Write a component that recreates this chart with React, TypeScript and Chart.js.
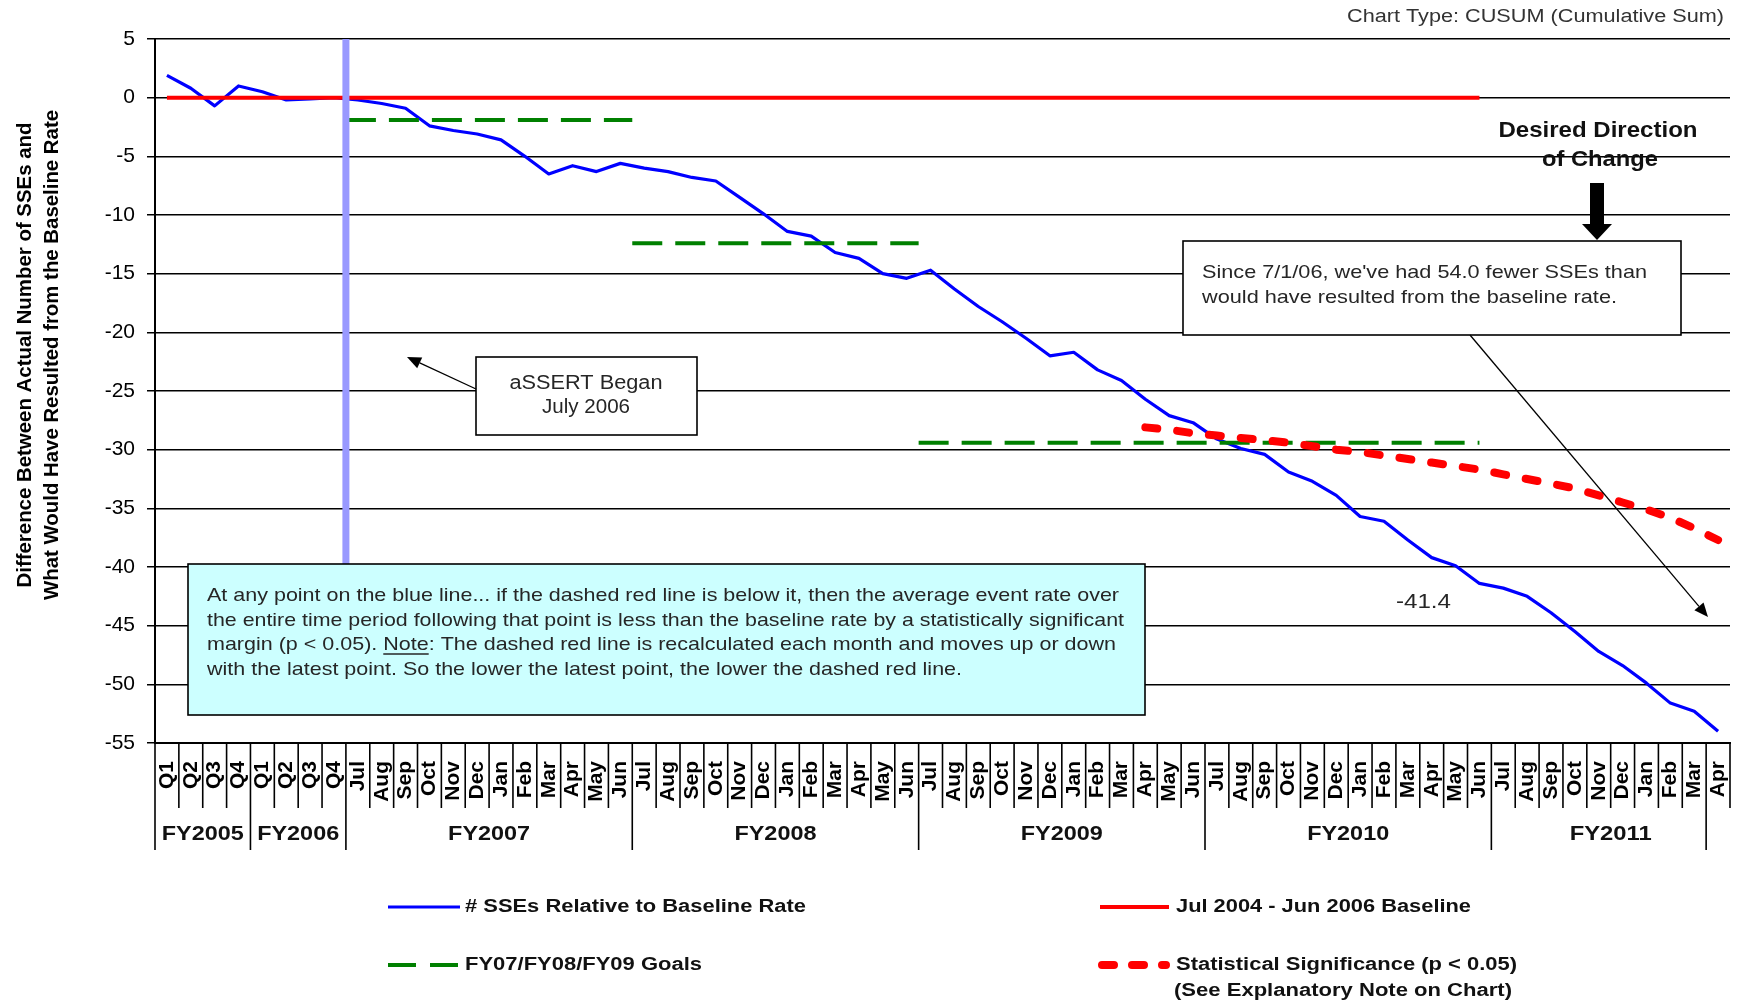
import { useEffect, useRef } from 'react';
import { Chart, registerables } from 'chart.js';

Chart.register(...registerables);

const FONT = "'Liberation Sans', Arial, Helvetica, sans-serif";

// ---------------- DATA ----------------
const fiscalYears = ['FY2005', 'FY2006', 'FY2007', 'FY2008', 'FY2009', 'FY2010', 'FY2011'];
const quarterLabels = ['Q1', 'Q2', 'Q3', 'Q4'];
const monthLabels = ['Jul', 'Aug', 'Sep', 'Oct', 'Nov', 'Dec', 'Jan', 'Feb', 'Mar', 'Apr', 'May', 'Jun'];
const periodsPerYear = [
  quarterLabels,
  quarterLabels,
  monthLabels,
  monthLabels,
  monthLabels,
  monthLabels,
  monthLabels.slice(0, 10),
];
const categories = periodsPerYear.flat();
// Excel draws an extra long divider before the last month
const extraLongDividers = [65];

// # SSEs relative to baseline rate (CUSUM)
const cusumValues = [
  1.9, 0.8, -0.7, 1.0, 0.5, -0.2, -0.1, 0.0,
  -0.2, -0.5, -0.9, -2.4, -2.8, -3.1, -3.6, -5.0, -6.5, -5.8, -6.3, -5.6,
  -6.0, -6.3, -6.8, -7.1, -8.5, -9.9, -11.4, -11.8, -13.2, -13.7, -15.0, -15.4,
  -14.7, -16.3, -17.8, -19.1, -20.5, -22.0, -21.7, -23.2, -24.1, -25.7, -27.1, -27.7,
  -29.1, -29.9, -30.4, -31.9, -32.7, -33.9, -35.7, -36.1, -37.7, -39.2, -39.9, -41.4,
  -41.8, -42.5, -43.9, -45.5, -47.2, -48.4, -49.9, -51.6, -52.3, -54.0,
];

// Jul 2004 - Jun 2006 baseline
const baselineValue = 0;
const baselineLastIndex = 55;

// Statistical significance (p < 0.05)
const significanceStartIndex = 41;
const significanceValues = [
  -28.1, -28.3, -28.6, -28.8, -29.0, -29.2, -29.4, -29.7, -30.0, -30.2, -30.5, -30.8,
  -31.1, -31.4, -31.7, -32.1, -32.5, -32.9, -33.3, -33.9, -34.5, -35.1, -35.8, -36.7, -37.7,
];

// FY07 / FY08 / FY09 goals (category positions, half-way between periods)
const goalLevels = [-1.9, -12.4, -29.4];
const goalSpans = [
  [7.5, 19.5],
  [19.5, 31.5],
  [31.5, 55],
];

// aSSERT start marker
const assertStartPosition = 7.5;
const assertLineSpan = [5, -45];

const yMin = -55;
const yMax = 5;
const yStep = 5;

const legendLabels = [
  '# SSEs Relative to Baseline Rate',
  'Jul 2004 - Jun 2006 Baseline',
  'FY07/FY08/FY09 Goals',
  'Statistical Significance (p < 0.05)',
  '(See Explanatory Note on Chart)',
];

const yTitleLines = [
  'Difference Between Actual Number of SSEs and',
  'What Would Have Resulted from the Baseline Rate',
];

const noteLines = [
  'At any point on the blue line... if the dashed red line is below it, then the average event rate over',
  'the entire time period following that point is less than the baseline rate by a statistically significant',
  'margin (p < 0.05). Note: The dashed red line is recalculated each month and moves up or down',
  'with the latest point. So the lower the latest point, the lower the dashed red line.',
];

// ---------------- STYLES ----------------
const BLUE = '#0000FF';
const RED = '#FF0000';
const GREEN = '#008000';
const PURPLE = '#9999FF';

function fitText(
  ctx: CanvasRenderingContext2D,
  text: string,
  x: number,
  y: number,
  font: string,
  width: number,
  align: CanvasTextAlign,
  color: string,
  angle = 0,
) {
  ctx.save();
  ctx.font = font;
  const natural = ctx.measureText(text).width;
  const sx = width / natural;
  ctx.translate(x, y);
  if (angle) ctx.rotate(angle);
  ctx.scale(sx, 1);
  ctx.fillStyle = color;
  ctx.textBaseline = 'middle';
  ctx.textAlign = align;
  ctx.fillText(text, 0, 0);
  ctx.restore();
  return sx;
}

function drawBox(ctx: CanvasRenderingContext2D, x: number, y: number, w: number, h: number, fill: string) {
  ctx.save();
  ctx.fillStyle = fill;
  ctx.fillRect(x, y, w, h);
  ctx.strokeStyle = '#000';
  ctx.lineWidth = 1.6;
  ctx.strokeRect(x, y, w, h);
  ctx.restore();
}

function drawArrow(ctx: CanvasRenderingContext2D, x1: number, y1: number, x2: number, y2: number) {
  const head = 14;
  const half = 6;
  const ang = Math.atan2(y2 - y1, x2 - x1);
  const bx = x2 - head * Math.cos(ang);
  const by = y2 - head * Math.sin(ang);
  ctx.save();
  ctx.strokeStyle = '#000';
  ctx.fillStyle = '#000';
  ctx.lineWidth = 1.3;
  ctx.beginPath();
  ctx.moveTo(x1, y1);
  ctx.lineTo(bx, by);
  ctx.stroke();
  ctx.beginPath();
  ctx.moveTo(x2, y2);
  ctx.lineTo(bx + half * Math.sin(ang), by - half * Math.cos(ang));
  ctx.lineTo(bx - half * Math.sin(ang), by + half * Math.cos(ang));
  ctx.closePath();
  ctx.fill();
  ctx.restore();
}

function legendSample(ctx: CanvasRenderingContext2D, x1: number, x2: number, y: number, ds: any) {
  ctx.save();
  ctx.strokeStyle = ds.borderColor;
  ctx.lineWidth = ds.borderWidth;
  ctx.setLineDash(ds.legendDash || []);
  ctx.lineCap = ds.borderCapStyle || 'butt';
  ctx.beginPath();
  ctx.moveTo(x1, y);
  ctx.lineTo(x2, y);
  ctx.stroke();
  ctx.restore();
}

const overlayPlugin = {
  id: 'overlay',
  afterDatasetsDraw(chart: any) {
    const ctx: CanvasRenderingContext2D = chart.ctx;
    const xs = chart.scales.x;
    const ys = chart.scales.y;
    const txt = '#262626';

    // aSSERT Began box
    drawBox(ctx, 476, 357, 221, 78, '#FFFFFF');
    fitText(ctx, 'aSSERT Began', 586, 383, `20px ${FONT}`, 153, 'center', txt);
    fitText(ctx, 'July 2006', 586, 407, `20px ${FONT}`, 88, 'center', txt);
    drawArrow(ctx, 476, 389, 407, 357);

    // explanatory note box
    drawBox(ctx, 188, 564, 957, 151, '#CCFFFF');
    const noteWidths = [912, 917, 909, 755];
    const noteY = [596, 620.5, 645, 669.5];
    noteLines.forEach((line, i) => {
      const sx = fitText(ctx, line, 207, noteY[i], `19px ${FONT}`, noteWidths[i], 'left', txt);
      if (i === 2) {
        ctx.save();
        ctx.font = `19px ${FONT}`;
        const pre = ctx.measureText('margin (p < 0.05). ').width * sx;
        const nw = ctx.measureText('Note').width * sx;
        ctx.strokeStyle = txt;
        ctx.lineWidth = 1.3;
        ctx.beginPath();
        ctx.moveTo(207 + pre, noteY[i] + 9);
        ctx.lineTo(207 + pre + nw, noteY[i] + 9);
        ctx.stroke();
        ctx.restore();
      }
    });

    // summary box
    const last = cusumValues[cusumValues.length - 1];
    drawBox(ctx, 1183, 241, 498, 94, '#FFFFFF');
    fitText(ctx, `Since 7/1/06, we've had ${Math.abs(last).toFixed(1)} fewer SSEs than`, 1202, 273, `19px ${FONT}`, 445, 'left', txt);
    fitText(ctx, 'would have resulted from the baseline rate.', 1202, 298, `19px ${FONT}`, 415, 'left', txt);
    drawArrow(ctx, 1470, 335, 1708, 617);

    // value label at end of FY2010
    const px = xs.getPixelForValue(baselineLastIndex);
    const py = ys.getPixelForValue(cusumValues[baselineLastIndex]);
    fitText(ctx, cusumValues[baselineLastIndex].toFixed(1), px - 56, py + 19, `21px ${FONT}`, 55, 'center', txt);

    // desired direction
    fitText(ctx, 'Desired Direction', 1598, 131, `bold 22px ${FONT}`, 199, 'center', '#111');
    fitText(ctx, 'of Change', 1600, 160, `bold 22px ${FONT}`, 116, 'center', '#111');
    ctx.save();
    ctx.fillStyle = '#000';
    const cx = 1597;
    ctx.beginPath();
    ctx.moveTo(cx - 7, 183);
    ctx.lineTo(cx + 7, 183);
    ctx.lineTo(cx + 7, 224);
    ctx.lineTo(cx + 15, 224);
    ctx.lineTo(cx, 240);
    ctx.lineTo(cx - 15, 224);
    ctx.lineTo(cx - 7, 224);
    ctx.closePath();
    ctx.fill();
    ctx.restore();
  },
  afterDraw(chart: any) {
    const ctx: CanvasRenderingContext2D = chart.ctx;
    const xs = chart.scales.x;
    const area = chart.chartArea;
    const n = categories.length;
    const w = xs.getPixelForValue(1) - xs.getPixelForValue(0);

    // category dividers
    const groupStarts: number[] = [];
    let acc = 0;
    periodsPerYear.forEach((p) => {
      groupStarts.push(acc);
      acc += p.length;
    });
    const longDividers = [...groupStarts, ...extraLongDividers];
    ctx.save();
    ctx.strokeStyle = '#000';
    ctx.lineWidth = 1.6;
    for (let i = 0; i <= n; i++) {
      const bx = i < n ? xs.getPixelForValue(i) - w / 2 : xs.getPixelForValue(n - 1) + w / 2;
      const len = longDividers.includes(i) ? 107 : 65;
      ctx.beginPath();
      ctx.moveTo(bx, area.bottom);
      ctx.lineTo(bx, area.bottom + len);
      ctx.stroke();
    }
    ctx.restore();

    // fiscal year labels
    fiscalYears.forEach((fy, k) => {
      const s = groupStarts[k];
      const e = s + periodsPerYear[k].length;
      const c = (xs.getPixelForValue(s) + xs.getPixelForValue(e - 1)) / 2;
      fitText(ctx, fy, c, area.bottom + 91, `bold 21px ${FONT}`, 82, 'center', '#111');
    });

    // y axis title
    fitText(ctx, yTitleLines[0], 25, 355, `bold 20px ${FONT}`, 465, 'center', '#000', -Math.PI / 2);
    fitText(ctx, yTitleLines[1], 52, 355, `bold 20px ${FONT}`, 490, 'center', '#000', -Math.PI / 2);

    // chart type
    fitText(ctx, 'Chart Type: CUSUM (Cumulative Sum)', 1724, 17, `18px ${FONT}`, 377, 'right', '#333');

    // legend
    const ds = chart.data.datasets;
    const blue = ds.find((d: any) => d.key === 'cusum');
    const base = ds.find((d: any) => d.key === 'baseline');
    const goal = ds.find((d: any) => d.key === 'goal');
    const sig = ds.find((d: any) => d.key === 'sig');
    legendSample(ctx, 388, 460, 907, blue);
    fitText(ctx, legendLabels[0], 465, 907, `bold 18px ${FONT}`, 341, 'left', '#111');
    legendSample(ctx, 1100, 1169, 907, base);
    fitText(ctx, legendLabels[1], 1176, 907, `bold 18px ${FONT}`, 295, 'left', '#111');
    legendSample(ctx, 388, 458, 965, goal);
    fitText(ctx, legendLabels[2], 465, 965, `bold 18px ${FONT}`, 237, 'left', '#111');
    legendSample(ctx, 1102, 1166, 965, sig);
    fitText(ctx, legendLabels[3], 1176, 965, `bold 18px ${FONT}`, 341, 'left', '#111');
    fitText(ctx, legendLabels[4], 1174, 991, `bold 18px ${FONT}`, 338, 'left', '#111');
  },
};

function zeroPadding(s: any) {
  s.paddingLeft = 0;
  s.paddingRight = 0;
  s.paddingTop = 0;
  s.paddingBottom = 0;
}

export default function App() {
  const ref = useRef<HTMLCanvasElement>(null);

  useEffect(() => {
    const canvas = ref.current;
    if (!canvas) return;

    const baselineData = categories.map((_, i) => (i <= baselineLastIndex ? baselineValue : null));
    const sigData = categories.map((_, i) =>
      i >= significanceStartIndex ? significanceValues[i - significanceStartIndex] : null,
    );

    const goalDatasets = goalLevels.map((lvl, k) => ({
      key: 'goal',
      label: 'FY07/FY08/FY09 Goals',
      xAxisID: 'x2',
      data: [
        { x: goalSpans[k][0], y: lvl },
        { x: goalSpans[k][1], y: lvl },
      ],
      borderColor: GREEN,
      borderWidth: 4,
      borderDash: [30, 13],
      legendDash: [28, 14],
      pointRadius: 0,
      fill: false,
    }));

    const chart = new Chart(canvas, {
      type: 'line',
      data: {
        labels: categories,
        datasets: [
          {
            key: 'assert',
            label: 'aSSERT Began',
            xAxisID: 'x2',
            data: [
              { x: assertStartPosition, y: assertLineSpan[0] },
              { x: assertStartPosition, y: assertLineSpan[1] },
            ],
            borderColor: PURPLE,
            borderWidth: 7,
            pointRadius: 0,
          },
          {
            key: 'sig',
            label: 'Statistical Significance (p < 0.05)',
            data: sigData,
            borderColor: RED,
            borderWidth: 8,
            borderDash: [12, 20],
            legendDash: [12, 18],
            borderCapStyle: 'round',
            pointRadius: 0,
            spanGaps: false,
          },
          {
            key: 'baseline',
            label: 'Jul 2004 - Jun 2006 Baseline',
            data: baselineData,
            borderColor: RED,
            borderWidth: 4,
            pointRadius: 0,
          },
          ...goalDatasets,
          {
            key: 'cusum',
            label: '# SSEs Relative to Baseline Rate',
            data: cusumValues,
            borderColor: BLUE,
            borderWidth: 3.2,
            borderJoinStyle: 'round',
            pointRadius: 0,
          },
        ] as any,
      },
      options: {
        animation: false,
        responsive: false,
        devicePixelRatio: 1,
        layout: { padding: { left: 0, right: 7, top: 39, bottom: 0 } },
        plugins: {
          legend: { display: false },
          tooltip: { enabled: false },
          title: { display: false },
        },
        scales: {
          x: {
            type: 'category',
            offset: true,
            grid: { display: true, drawOnChartArea: false, drawTicks: false },
            border: { display: true, color: '#000', width: 2 },
            ticks: {
              autoSkip: false,
              minRotation: 90,
              maxRotation: 90,
              padding: 18,
              color: '#000',
              font: { family: FONT, size: 21, weight: 'bold' },
            },
            afterFit: (s: any) => {
              s.height = 258;
              zeroPadding(s);
            },
          },
          x2: {
            type: 'linear',
            display: false,
            min: -0.5,
            max: categories.length - 0.5,
            afterFit: (s: any) => zeroPadding(s),
          },
          y: {
            min: yMin,
            max: yMax,
            ticks: {
              stepSize: yStep,
              padding: 12,
              color: '#000',
              font: { family: FONT, size: 21 },
            },
            grid: { color: '#000', lineWidth: 1.5, tickLength: 8, drawTicks: true },
            border: { display: true, color: '#000', width: 2 },
            afterFit: (s: any) => {
              s.width = 155;
              zeroPadding(s);
            },
          },
        },
      } as any,
      plugins: [overlayPlugin],
    });

    return () => chart.destroy();
  }, []);

  return (
    <div
      style={{
        position: 'absolute',
        left: 0,
        top: 0,
        width: 1737,
        height: 1001,
        background: '#ffffff',
        overflow: 'hidden',
      }}
    >
      <canvas ref={ref} width={1737} height={1001} style={{ display: 'block', width: 1737, height: 1001 }} />
    </div>
  );
}
